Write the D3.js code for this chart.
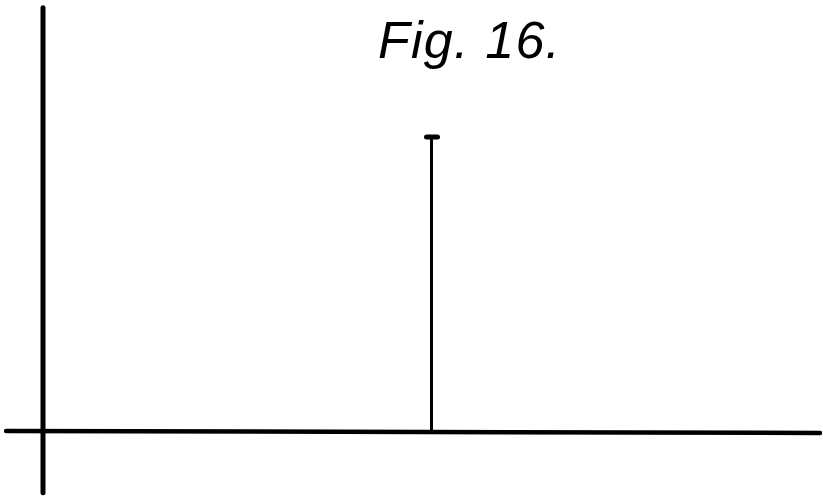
<!DOCTYPE html>
<html>
<head>
<meta charset="utf-8">
<script src="https://cdn.jsdelivr.net/npm/d3@7"></script>
<style>
  html, body { margin: 0; padding: 0; background: #fff; }
  svg { display: block; }
</style>
</head>
<body>
<svg width="823" height="497"></svg>
<script>
// impulse data (time, amplitude)
const impulseTimes = [1];
const impulseHeights = [1];
const titleText = 'Fig. 16.';

// axis extents in data units
const xExtent = [-0.095, 2.0];
const yExtent = [-0.21, 1.44];

const svg = d3.select('svg');

const x = d3.scaleLinear()
  .domain([0, 2])
  .range([43, 820]);

const y = d3.scaleLinear()
  .domain([0, 1])
  .range([431, 137]);

const g = svg.append('g');

// vertical axis
g.append('line')
  .attr('x1', x(0)).attr('x2', x(0))
  .attr('y1', y(yExtent[1])).attr('y2', y(yExtent[0]))
  .attr('stroke', '#000')
  .attr('stroke-width', 5)
  .attr('stroke-linecap', 'round');

// horizontal axis (drawn by hand, drifts down a little to the right)
g.append('line')
  .attr('x1', x(xExtent[0])).attr('x2', x(xExtent[1]))
  .attr('y1', y(0)).attr('y2', y(0) + 2)
  .attr('stroke', '#000')
  .attr('stroke-width', 4.5)
  .attr('stroke-linecap', 'round');

const impulses = impulseTimes.map((t, i) => ({ t, h: impulseHeights[i] }));

// stems
g.selectAll('.stem')
  .data(impulses)
  .join('line')
  .attr('class', 'stem')
  .attr('x1', (d) => x(d.t)).attr('x2', (d) => x(d.t))
  .attr('y1', y(0)).attr('y2', (d) => y(d.h))
  .attr('stroke', '#000')
  .attr('stroke-width', 3);

// caps
g.selectAll('.cap')
  .data(impulses)
  .join('line')
  .attr('class', 'cap')
  .attr('x1', (d) => x(d.t) - 5).attr('x2', (d) => x(d.t) + 6)
  .attr('y1', (d) => y(d.h)).attr('y2', (d) => y(d.h))
  .attr('stroke', '#000')
  .attr('stroke-width', 5)
  .attr('stroke-linecap', 'round');

// title
svg.append('text')
  .attr('x', 378)
  .attr('y', 58)
  .attr('textLength', 182)
  .attr('lengthAdjust', 'spacing')
  .style('font-family', '"Liberation Sans", "DejaVu Sans", sans-serif')
  .style('font-style', 'italic')
  .style('font-size', '52px')
  .style('fill', '#000')
  .text(titleText);
</script>
</body>
</html>
